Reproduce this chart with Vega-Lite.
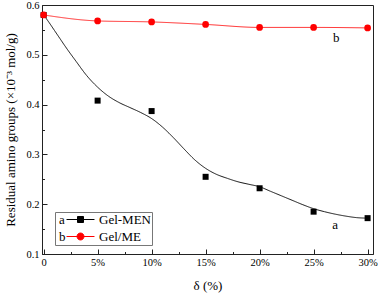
{
  "$schema": "https://vega.github.io/schema/vega-lite/v6.json",
  "width": 331,
  "height": 249,
  "autosize": {"type": "none"},
  "padding": {"left": 42, "top": 5, "right": 7, "bottom": 39},
  "background": "white",
  "config": {
    "view": {"stroke": "#222", "strokeWidth": 1},
    "font": "Liberation Serif",
    "axis": {
      "labelFont": "Liberation Serif",
      "labelFontSize": 10.5,
      "labelColor": "black",
      "titleFont": "Liberation Serif",
      "titleFontSize": 13,
      "titleFontWeight": "normal",
      "titleColor": "black",
      "domainColor": "#222",
      "tickColor": "#222",
      "grid": false
    }
  },
  "datasets": {
    "men": [
      {"delta": 0, "value": 0.58, "series": "Gel-MEN"},
      {"delta": 5, "value": 0.408, "series": "Gel-MEN"},
      {"delta": 10, "value": 0.387, "series": "Gel-MEN"},
      {"delta": 15, "value": 0.255, "series": "Gel-MEN"},
      {"delta": 20, "value": 0.232, "series": "Gel-MEN"},
      {"delta": 25, "value": 0.185, "series": "Gel-MEN"},
      {"delta": 30, "value": 0.172, "series": "Gel-MEN"}
    ],
    "me": [
      {"delta": 0, "value": 0.58, "series": "Gel/ME"},
      {"delta": 5, "value": 0.568, "series": "Gel/ME"},
      {"delta": 10, "value": 0.566, "series": "Gel/ME"},
      {"delta": 15, "value": 0.561, "series": "Gel/ME"},
      {"delta": 20, "value": 0.555, "series": "Gel/ME"},
      {"delta": 25, "value": 0.555, "series": "Gel/ME"},
      {"delta": 30, "value": 0.554, "series": "Gel/ME"}
    ],
    "fit": [
      {"delta": 0, "value": 0.58},
      {"delta": 0.5, "value": 0.565},
      {"delta": 1, "value": 0.549},
      {"delta": 1.5, "value": 0.533},
      {"delta": 2, "value": 0.517},
      {"delta": 3, "value": 0.487},
      {"delta": 4, "value": 0.458},
      {"delta": 5, "value": 0.435},
      {"delta": 6, "value": 0.417},
      {"delta": 7, "value": 0.404},
      {"delta": 8, "value": 0.394},
      {"delta": 9, "value": 0.384},
      {"delta": 10, "value": 0.372},
      {"delta": 11, "value": 0.355},
      {"delta": 12, "value": 0.334},
      {"delta": 13, "value": 0.311},
      {"delta": 14, "value": 0.289},
      {"delta": 15, "value": 0.272},
      {"delta": 16, "value": 0.26},
      {"delta": 17, "value": 0.252},
      {"delta": 18, "value": 0.245},
      {"delta": 19, "value": 0.24},
      {"delta": 20, "value": 0.235},
      {"delta": 21, "value": 0.226},
      {"delta": 22, "value": 0.217},
      {"delta": 23, "value": 0.208},
      {"delta": 24, "value": 0.199},
      {"delta": 25, "value": 0.191},
      {"delta": 26, "value": 0.185},
      {"delta": 27, "value": 0.18},
      {"delta": 28, "value": 0.176},
      {"delta": 29, "value": 0.173},
      {"delta": 30, "value": 0.172}
    ],
    "notes": [
      {"delta": 27, "value": 0.158, "label": "a"},
      {"delta": 27.1, "value": 0.534, "label": "b"}
    ]
  },
  "encoding": {
    "x": {
      "field": "delta",
      "type": "quantitative",
      "scale": {"domain": [-0.15, 30.5], "nice": false, "zero": false},
      "axis": {
        "title": "δ (%)",
        "titlePadding": 9,
        "values": [0, 2.5, 5, 7.5, 10, 12.5, 15, 17.5, 20, 22.5, 25, 27.5, 30],
        "labelExpr": "datum.value == 0 ? '0' : (datum.value % 5 == 0 ? datum.value + '%' : '')",
        "labelFlush": false,
        "labelOverlap": false,
        "tickSize": {"condition": {"test": "datum.value % 5 != 0", "value": -2.5}, "value": -5},
        "labelPadding": 8
      }
    },
    "y": {
      "field": "value",
      "type": "quantitative",
      "scale": {"domain": [0.1, 0.6], "nice": false, "zero": false},
      "axis": {
        "title": "Residual amino groups (×10⁻³ mol/g)",
        "titlePadding": 8,
        "values": [0.1, 0.15, 0.2, 0.25, 0.3, 0.35, 0.4, 0.45, 0.5, 0.55, 0.6],
        "labelExpr": "round(datum.value * 100) % 10 == 0 ? format(datum.value, '.1f') : ''",
        "labelFlush": false,
        "labelOverlap": false,
        "tickSize": {"condition": {"test": "round(datum.value * 100) % 10 != 0", "value": -2.5}, "value": -5},
        "labelPadding": 8
      }
    }
  },
  "layer": [
    {
      "data": {"name": "fit"},
      "mark": {"type": "line", "color": "#111", "strokeWidth": 1, "interpolate": "monotone"},
      "encoding": {
        "strokeDash": {
          "datum": "a",
          "type": "nominal",
          "scale": {"domain": ["a", "b"], "range": [[1, 0], [1, 0]]},
          "legend": {
            "title": null,
            "orient": "none",
            "legendX": 4,
            "legendY": 208,
            "zindex": 2,
            "padding": 0,
            "symbolSize": 0,
            "symbolOpacity": 0,
            "symbolStrokeWidth": 0,
            "labelOffset": 0,
            "labelFont": "Liberation Serif",
            "labelFontSize": 13,
            "labelColor": "black",
            "rowPadding": 3
          }
        }
      }
    },
    {
      "data": {"name": "me"},
      "mark": {"type": "line", "color": "#ff2a2a", "strokeWidth": 1, "interpolate": "monotone"},
      "encoding": {
        "strokeDash": {"datum": "b", "type": "nominal"}
      }
    },
    {
      "data": {"name": "men"},
      "mark": {"type": "square", "size": 36, "opacity": 1},
      "encoding": {
        "color": {
          "field": "series",
          "type": "nominal",
          "scale": {"domain": ["Gel-MEN", "Gel/ME"], "range": ["black", "#ff0000"]},
          "legend": {
            "title": null,
            "orient": "none",
            "legendX": 13,
            "legendY": 207,
            "zindex": 1,
            "padding": 1,
            "strokeColor": "#777",
            "fillColor": "white",
            "symbolType": {"expr": "datum.value == 'Gel-MEN' ? 'M-2.33,0H2.33M-0.5,-0.5H0.5V0.5H-0.5Z' : 'M-2.33,0H2.33M-0.58,0A0.58,0.58 0 1,0 0.58,0A0.58,0.58 0 1,0 -0.58,0Z'"},
            "symbolSize": 144,
            "symbolStrokeWidth": 1,
            "symbolStrokeColor": {"expr": "datum.value == 'Gel-MEN' ? 'black' : '#ff0000'"},
            "symbolOffset": 18,
            "labelOffset": 12,
            "labelFont": "Liberation Serif",
            "labelFontSize": 13,
            "labelColor": "black",
            "rowPadding": 3
          }
        }
      }
    },
    {
      "data": {"name": "me"},
      "mark": {"type": "circle", "size": 45, "opacity": 1},
      "encoding": {
        "color": {"field": "series", "type": "nominal"}
      }
    },
    {
      "data": {"name": "notes"},
      "mark": {"type": "text", "font": "Liberation Serif", "fontSize": 13, "color": "black"},
      "encoding": {
        "text": {"field": "label", "type": "nominal"}
      }
    }
  ]
}
